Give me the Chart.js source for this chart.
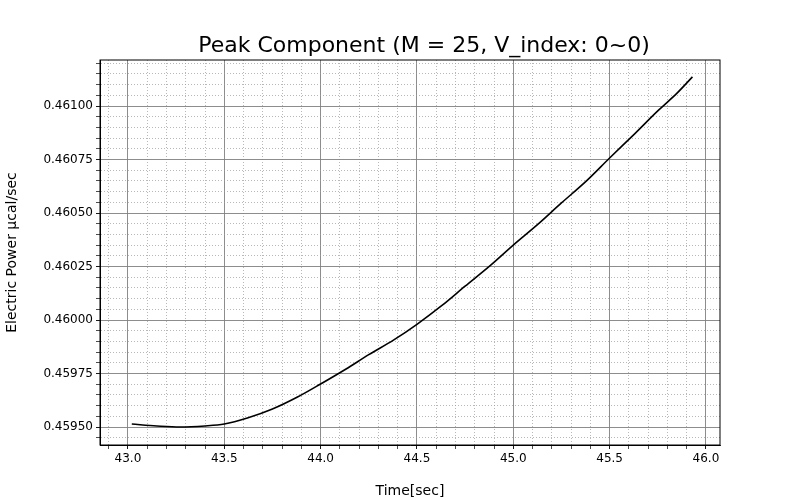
<!DOCTYPE html>
<html>
<head>
<meta charset="utf-8">
<script src="https://cdn.jsdelivr.net/npm/chart.js@4"></script>
<style>
  body { margin: 0; background: #fff; }
  #wrap { width: 800px; height: 500px; }
</style>
</head>
<body>
<div id="wrap"><canvas id="chart"></canvas></div>
<script>
// Time [sec] and power values
const timeSec = [43.02, 43.15, 43.27, 43.40, 43.50, 43.62, 43.75, 43.88, 44.00, 44.13, 44.25, 44.38, 44.50,
                 44.63, 44.75, 44.88, 45.00, 45.13, 45.25, 45.38, 45.50, 45.63, 45.75, 45.85, 45.93];
const power = [0.459514, 0.459505, 0.459500, 0.459505, 0.459514, 0.459542, 0.459584, 0.459640, 0.459701,
               0.459770, 0.459838, 0.459907, 0.459980, 0.460068, 0.460158, 0.460254, 0.460350, 0.460449,
               0.460547, 0.460650, 0.460757, 0.460870, 0.460977, 0.461060, 0.461136];

// tick positions (major ones get labels)
const xTicks = [];
for (let i = 429; i <= 460; i++) xTicks.push(i / 10);
const yTicks = [];
for (let i = 9189; i <= 9224; i++) yTicks.push(i * 0.00005);

const isMajor = (v, step) => Math.abs(v / step - Math.round(v / step)) < 1e-6;
const fontFamily = 'DejaVu Sans';
const titleText = 'Peak Component (M = 25, V_index: 0~0)';

function gridOpts(step) {
    return {
        color: ctx => isMajor(ctx.tick.value, step) ? '#808080' : '#999999',
        lineWidth: ctx => isMajor(ctx.tick.value, step) ? 0.9 : 0.7,
        tickColor: '#000',
        tickLength: 4
    };
}

new Chart(document.getElementById('chart'), {
    type: 'line',
    data: {
        datasets: [{
            data: timeSec.map((t, i) => ({ x: t, y: power[i] })),
            borderColor: '#000',
            borderWidth: 1.6,
            pointRadius: 0,
            cubicInterpolationMode: 'monotone',
            fill: false
        }]
    },
    options: {
        responsive: true,
        maintainAspectRatio: false,
        animation: false,
        layout: { padding: { left: 0, right: 80, top: 60, bottom: 0 } },
        plugins: {
            legend: { display: false },
            tooltip: { enabled: false },
            title: { display: false }
        },
        scales: {
            x: {
                type: 'linear',
                min: 42.855,
                max: 46.073,
                afterBuildTicks: s => { s.ticks = xTicks.filter(v => v > s.min && v < s.max).map(v => ({ value: v })); },
                afterFit: s => { s.height = 55; },
                ticks: {
                    autoSkip: false,
                    maxRotation: 0,
                    color: '#000',
                    font: { family: fontFamily, size: 12 },
                    callback: v => isMajor(v, 0.5) ? v.toFixed(1) : ''
                },
                grid: gridOpts(0.5),
                border: { color: '#000', width: 1, dash: ctx => isMajor(ctx.tick.value, 0.5) ? [] : [1, 2] },
                title: {
                    display: true,
                    text: 'Time[sec]',
                    color: '#000',
                    font: { family: fontFamily, size: 14 },
                    padding: { top: 8, bottom: 0 }
                }
            },
            y: {
                type: 'linear',
                min: 0.459416,
                max: 0.461215,
                afterBuildTicks: s => { s.ticks = yTicks.filter(v => v > s.min && v < s.max).map(v => ({ value: v })); },
                afterFit: s => { s.width = 100; },
                ticks: {
                    autoSkip: false,
                    color: '#000',
                    font: { family: fontFamily, size: 12 },
                    callback: v => isMajor(v, 0.00025) ? v.toFixed(5) : ''
                },
                grid: gridOpts(0.00025),
                border: { color: '#000', width: 1, dash: ctx => isMajor(ctx.tick.value, 0.00025) ? [] : [1, 2] },
                title: {
                    display: true,
                    text: 'Electric Power μcal/sec',
                    color: '#000',
                    font: { family: fontFamily, size: 14 },
                    padding: { top: 4, bottom: 4 }
                }
            }
        }
    },
    plugins: [{
        id: 'frameAndTitle',
        afterDraw(chart) {
            const { ctx, chartArea: a } = chart;
            ctx.save();
            ctx.strokeStyle = '#000';
            ctx.lineWidth = 1;
            ctx.strokeRect(a.left, a.top, a.right - a.left, a.bottom - a.top);
            ctx.fillStyle = '#000';
            ctx.font = '22px ' + fontFamily;
            ctx.textAlign = 'center';
            ctx.textBaseline = 'alphabetic';
            ctx.fillText(titleText, (a.left + a.right) / 2 + 14, 52);
            ctx.restore();
        }
    }]
});
</script>
</body>
</html>
